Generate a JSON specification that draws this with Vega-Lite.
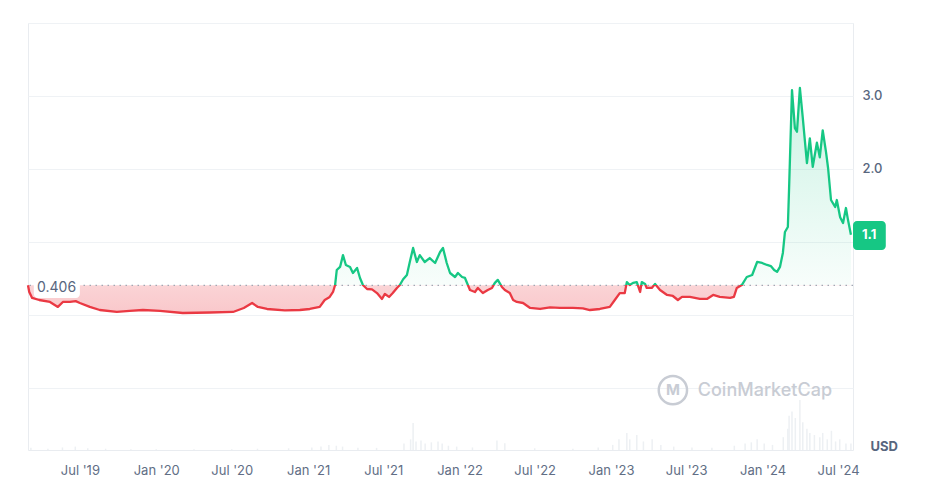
{
  "$schema": "https://vega.github.io/schema/vega-lite/v6.json",
  "width": 825,
  "height": 427,
  "autosize": {"type": "none"},
  "padding": {"left": 28, "top": 23, "right": 75, "bottom": 54},
  "background": "#ffffff",
  "config": {
    "view": {"stroke": "#e9ecf0", "strokeWidth": 1},
    "font": "Inter",
    "axis": {"labelFont": "Inter", "titleFont": "Inter"},
    "axisX": {"grid": false}
  },
  "datasets": {
    "price": [
      {"date": "2019-02-26", "price": 0.406},
      {"date": "2019-03-01", "price": 0.315},
      {"date": "2019-03-08", "price": 0.233},
      {"date": "2019-03-25", "price": 0.205},
      {"date": "2019-04-20", "price": 0.178},
      {"date": "2019-05-09", "price": 0.11},
      {"date": "2019-05-21", "price": 0.178},
      {"date": "2019-06-07", "price": 0.178},
      {"date": "2019-06-21", "price": 0.19},
      {"date": "2019-07-01", "price": 0.164},
      {"date": "2019-07-25", "price": 0.11},
      {"date": "2019-08-18", "price": 0.068},
      {"date": "2019-09-28", "price": 0.041},
      {"date": "2019-10-29", "price": 0.055},
      {"date": "2019-11-30", "price": 0.068},
      {"date": "2020-01-10", "price": 0.055},
      {"date": "2020-03-05", "price": 0.027},
      {"date": "2020-05-09", "price": 0.034},
      {"date": "2020-07-04", "price": 0.041},
      {"date": "2020-07-30", "price": 0.096},
      {"date": "2020-08-19", "price": 0.164},
      {"date": "2020-09-02", "price": 0.11},
      {"date": "2020-09-24", "price": 0.082},
      {"date": "2020-11-06", "price": 0.062},
      {"date": "2020-12-12", "price": 0.068},
      {"date": "2021-01-05", "price": 0.082},
      {"date": "2021-01-29", "price": 0.11},
      {"date": "2021-02-10", "price": 0.205},
      {"date": "2021-02-22", "price": 0.247},
      {"date": "2021-03-02", "price": 0.315},
      {"date": "2021-03-07", "price": 0.41},
      {"date": "2021-03-11", "price": 0.616},
      {"date": "2021-03-19", "price": 0.658},
      {"date": "2021-03-26", "price": 0.82},
      {"date": "2021-04-02", "price": 0.685},
      {"date": "2021-04-12", "price": 0.658},
      {"date": "2021-04-19", "price": 0.575},
      {"date": "2021-04-29", "price": 0.644},
      {"date": "2021-05-06", "price": 0.507},
      {"date": "2021-05-13", "price": 0.41},
      {"date": "2021-05-23", "price": 0.356},
      {"date": "2021-06-04", "price": 0.35},
      {"date": "2021-06-16", "price": 0.30},
      {"date": "2021-06-28", "price": 0.22},
      {"date": "2021-07-05", "price": 0.288},
      {"date": "2021-07-15", "price": 0.247},
      {"date": "2021-07-24", "price": 0.30},
      {"date": "2021-08-03", "price": 0.37},
      {"date": "2021-08-10", "price": 0.41},
      {"date": "2021-08-18", "price": 0.49},
      {"date": "2021-08-27", "price": 0.548},
      {"date": "2021-09-03", "price": 0.726},
      {"date": "2021-09-11", "price": 0.918},
      {"date": "2021-09-20", "price": 0.726},
      {"date": "2021-09-27", "price": 0.82},
      {"date": "2021-10-09", "price": 0.726},
      {"date": "2021-10-21", "price": 0.78},
      {"date": "2021-11-03", "price": 0.712},
      {"date": "2021-11-15", "price": 0.863},
      {"date": "2021-11-22", "price": 0.918},
      {"date": "2021-12-01", "price": 0.712},
      {"date": "2021-12-09", "price": 0.575},
      {"date": "2021-12-21", "price": 0.52},
      {"date": "2021-12-28", "price": 0.575},
      {"date": "2022-01-07", "price": 0.52},
      {"date": "2022-01-14", "price": 0.507},
      {"date": "2022-01-21", "price": 0.41},
      {"date": "2022-01-26", "price": 0.342},
      {"date": "2022-02-07", "price": 0.315},
      {"date": "2022-02-14", "price": 0.37},
      {"date": "2022-02-26", "price": 0.30},
      {"date": "2022-03-10", "price": 0.342},
      {"date": "2022-03-20", "price": 0.37},
      {"date": "2022-03-27", "price": 0.44},
      {"date": "2022-04-03", "price": 0.48},
      {"date": "2022-04-13", "price": 0.384},
      {"date": "2022-04-20", "price": 0.342},
      {"date": "2022-05-02", "price": 0.30},
      {"date": "2022-05-10", "price": 0.205},
      {"date": "2022-05-19", "price": 0.178},
      {"date": "2022-06-03", "price": 0.164},
      {"date": "2022-06-20", "price": 0.096},
      {"date": "2022-07-14", "price": 0.082},
      {"date": "2022-08-07", "price": 0.103},
      {"date": "2022-08-31", "price": 0.096},
      {"date": "2022-10-01", "price": 0.096},
      {"date": "2022-10-25", "price": 0.089},
      {"date": "2022-11-11", "price": 0.068},
      {"date": "2022-12-05", "price": 0.082},
      {"date": "2022-12-29", "price": 0.11},
      {"date": "2023-01-10", "price": 0.205},
      {"date": "2023-01-22", "price": 0.30},
      {"date": "2023-02-03", "price": 0.30},
      {"date": "2023-02-08", "price": 0.45},
      {"date": "2023-02-15", "price": 0.41},
      {"date": "2023-02-23", "price": 0.44},
      {"date": "2023-03-04", "price": 0.45},
      {"date": "2023-03-12", "price": 0.315},
      {"date": "2023-03-16", "price": 0.45},
      {"date": "2023-03-24", "price": 0.425},
      {"date": "2023-03-28", "price": 0.37},
      {"date": "2023-04-09", "price": 0.37},
      {"date": "2023-04-17", "price": 0.425},
      {"date": "2023-04-29", "price": 0.342},
      {"date": "2023-05-16", "price": 0.274},
      {"date": "2023-05-30", "price": 0.26},
      {"date": "2023-06-11", "price": 0.205},
      {"date": "2023-06-21", "price": 0.247},
      {"date": "2023-07-10", "price": 0.247},
      {"date": "2023-08-03", "price": 0.22},
      {"date": "2023-08-20", "price": 0.22},
      {"date": "2023-09-04", "price": 0.274},
      {"date": "2023-09-20", "price": 0.247},
      {"date": "2023-10-15", "price": 0.233},
      {"date": "2023-10-24", "price": 0.247},
      {"date": "2023-10-31", "price": 0.37},
      {"date": "2023-11-12", "price": 0.41},
      {"date": "2023-11-24", "price": 0.52},
      {"date": "2023-12-07", "price": 0.548},
      {"date": "2023-12-19", "price": 0.726},
      {"date": "2023-12-31", "price": 0.712},
      {"date": "2024-01-12", "price": 0.685},
      {"date": "2024-01-21", "price": 0.67},
      {"date": "2024-01-29", "price": 0.616},
      {"date": "2024-02-05", "price": 0.59},
      {"date": "2024-02-12", "price": 0.658},
      {"date": "2024-02-19", "price": 0.85},
      {"date": "2024-02-24", "price": 1.137},
      {"date": "2024-03-02", "price": 1.205},
      {"date": "2024-03-05", "price": 1.74},
      {"date": "2024-03-12", "price": 3.08},
      {"date": "2024-03-19", "price": 2.56},
      {"date": "2024-03-24", "price": 2.51},
      {"date": "2024-03-31", "price": 3.11},
      {"date": "2024-04-07", "price": 2.70},
      {"date": "2024-04-17", "price": 2.08},
      {"date": "2024-04-24", "price": 2.42},
      {"date": "2024-05-01", "price": 2.03},
      {"date": "2024-05-11", "price": 2.36},
      {"date": "2024-05-18", "price": 2.16},
      {"date": "2024-05-25", "price": 2.53},
      {"date": "2024-06-02", "price": 2.23},
      {"date": "2024-06-07", "price": 2.01},
      {"date": "2024-06-14", "price": 1.575},
      {"date": "2024-06-24", "price": 1.48},
      {"date": "2024-06-28", "price": 1.575},
      {"date": "2024-07-06", "price": 1.34},
      {"date": "2024-07-13", "price": 1.26},
      {"date": "2024-07-20", "price": 1.465},
      {"date": "2024-07-25", "price": 1.30},
      {"date": "2024-08-01", "price": 1.10}
    ],
    "volume": [
      {"date": "2019-03-05", "volume": 0.5},
      {"date": "2019-04-15", "volume": 0.3},
      {"date": "2019-05-20", "volume": 0.6},
      {"date": "2019-06-20", "volume": 0.8},
      {"date": "2019-07-20", "volume": 0.4},
      {"date": "2019-09-01", "volume": 0.3},
      {"date": "2019-11-01", "volume": 0.2},
      {"date": "2020-01-01", "volume": 0.2},
      {"date": "2020-04-01", "volume": 0.2},
      {"date": "2020-07-01", "volume": 0.2},
      {"date": "2020-09-01", "volume": 0.3},
      {"date": "2020-11-15", "volume": 0.4},
      {"date": "2021-01-10", "volume": 0.6},
      {"date": "2021-02-01", "volume": 0.8},
      {"date": "2021-02-20", "volume": 1.2},
      {"date": "2021-03-10", "volume": 1.0},
      {"date": "2021-03-25", "volume": 0.8},
      {"date": "2021-05-01", "volume": 0.5},
      {"date": "2021-06-15", "volume": 0.5},
      {"date": "2021-08-20", "volume": 1.5},
      {"date": "2021-09-05", "volume": 2.5},
      {"date": "2021-09-11", "volume": 6.3},
      {"date": "2021-09-18", "volume": 2.0},
      {"date": "2021-09-30", "volume": 2.2},
      {"date": "2021-10-10", "volume": 1.5},
      {"date": "2021-10-25", "volume": 1.8},
      {"date": "2021-11-10", "volume": 2.0},
      {"date": "2021-11-20", "volume": 1.5},
      {"date": "2021-12-05", "volume": 1.0},
      {"date": "2021-12-25", "volume": 0.8},
      {"date": "2022-02-01", "volume": 0.6},
      {"date": "2022-04-01", "volume": 2.2},
      {"date": "2022-04-20", "volume": 1.6},
      {"date": "2022-07-01", "volume": 0.4},
      {"date": "2022-10-01", "volume": 0.3},
      {"date": "2022-12-01", "volume": 0.6},
      {"date": "2023-01-05", "volume": 1.2},
      {"date": "2023-01-20", "volume": 2.5},
      {"date": "2023-02-08", "volume": 4.0},
      {"date": "2023-02-15", "volume": 2.5},
      {"date": "2023-03-04", "volume": 3.5},
      {"date": "2023-03-20", "volume": 2.0},
      {"date": "2023-04-10", "volume": 2.5},
      {"date": "2023-05-01", "volume": 1.2},
      {"date": "2023-06-01", "volume": 0.8},
      {"date": "2023-07-15", "volume": 0.6},
      {"date": "2023-09-01", "volume": 0.5},
      {"date": "2023-10-25", "volume": 1.0},
      {"date": "2023-11-20", "volume": 1.5},
      {"date": "2023-12-05", "volume": 1.8},
      {"date": "2023-12-19", "volume": 2.5},
      {"date": "2024-01-05", "volume": 1.5},
      {"date": "2024-01-25", "volume": 1.2},
      {"date": "2024-02-20", "volume": 3.0},
      {"date": "2024-03-02", "volume": 5.0},
      {"date": "2024-03-05", "volume": 8.0},
      {"date": "2024-03-12", "volume": 9.0},
      {"date": "2024-03-20", "volume": 7.5},
      {"date": "2024-03-31", "volume": 11.7},
      {"date": "2024-04-07", "volume": 6.5},
      {"date": "2024-04-17", "volume": 5.0},
      {"date": "2024-04-24", "volume": 4.0},
      {"date": "2024-05-05", "volume": 3.5},
      {"date": "2024-05-18", "volume": 3.0},
      {"date": "2024-05-25", "volume": 4.0},
      {"date": "2024-06-05", "volume": 2.5},
      {"date": "2024-06-15", "volume": 4.5},
      {"date": "2024-06-25", "volume": 2.0},
      {"date": "2024-07-05", "volume": 2.5},
      {"date": "2024-07-20", "volume": 1.5},
      {"date": "2024-08-01", "volume": 1.5}
    ]
  },
  "resolve": {"scale": {"y": "independent"}},
  "layer": [
    {
      "data": {"name": "volume"},
      "mark": {"type": "rule", "color": "#edf0f3", "strokeWidth": 1.5},
      "encoding": {
        "x": {
          "field": "date", "type": "temporal", "title": null,
          "scale": {"type": "utc", "domain": [{"year": 2019, "month": 2, "date": 26, "utc": true}, {"year": 2024, "month": 8, "date": 6, "utc": true}]},
          "axis": {
            "values": [
              {"year": 2019, "month": 7, "date": 1, "utc": true},
              {"year": 2020, "month": 1, "date": 1, "utc": true},
              {"year": 2020, "month": 7, "date": 1, "utc": true},
              {"year": 2021, "month": 1, "date": 1, "utc": true},
              {"year": 2021, "month": 7, "date": 1, "utc": true},
              {"year": 2022, "month": 1, "date": 1, "utc": true},
              {"year": 2022, "month": 7, "date": 1, "utc": true},
              {"year": 2023, "month": 1, "date": 1, "utc": true},
              {"year": 2023, "month": 7, "date": 1, "utc": true},
              {"year": 2024, "month": 1, "date": 1, "utc": true},
              {"year": 2024, "month": 7, "date": 1, "utc": true}
            ],
            "labelExpr": "utcFormat(datum.value, \"%b '%y\")",
            "domain": false, "ticks": false, "tickSize": 0, "grid": false,
            "labelPadding": 14, "labelFontSize": 13, "labelColor": "#616e85", "labelFont": "Inter"
          }
        },
        "y": {"field": "volume", "type": "quantitative", "scale": {"domain": [0, 100], "nice": false}, "axis": null},
        "y2": {"datum": 0}
      }
    },
    {
      "layer": [
        {
          "data": {"name": "price"},
          "mark": {
            "type": "area",
            "fill": {
              "gradient": "linear", "x1": 0, "y1": 0, "x2": 0, "y2": 1,
              "stops": [
                {"offset": 0, "color": "rgba(22,199,132,0.22)"},
                {"offset": 0.877, "color": "rgba(22,199,132,0.03)"},
                {"offset": 0.877, "color": "rgba(234,57,67,0.22)"},
                {"offset": 1, "color": "rgba(234,57,67,0.28)"}
              ]
            }
          },
          "encoding": {
            "x": {"field": "date", "type": "temporal", "title": null},
            "y": {
              "field": "price", "type": "quantitative", "title": "USD",
              "scale": {"domain": [-1.85, 4.0], "nice": false, "zero": false},
              "axis": {
                "orient": "right", "values": [-1, 0, 1, 2, 3, 4],
                "labelExpr": "datum.value == 3 || datum.value == 2 ? format(datum.value, '.1f') : ''",
                "domain": false, "ticks": false, "tickSize": 0, "grid": true, "gridColor": "#eff2f5",
                "labelPadding": 9, "labelFontSize": 13, "labelFontWeight": 500, "labelColor": "#58667e", "labelFont": "Inter",
                "title": "USD", "titleAngle": 0, "titleAlign": "left", "titleBaseline": "middle",
                "titleX": 17, "titleY": 423, "titleFontSize": 13, "titleFontWeight": "bold", "titleColor": "#58667e", "titleFont": "Inter"
              }
            },
            "y2": {"datum": 0.406}
          }
        },
        {
          "data": {"values": [{}]},
          "mark": {"type": "rule", "color": "#a1a7b3", "strokeDash": [1.5, 4.5], "strokeWidth": 1.2},
          "encoding": {"y": {"datum": 0.406}}
        },
        {
          "data": {"name": "price"},
          "mark": {
            "type": "line", "strokeWidth": 2.3, "strokeJoin": "round",
            "stroke": {
              "gradient": "linear", "x1": 0, "y1": 0, "x2": 0, "y2": 1,
              "stops": [
                {"offset": 0, "color": "#16c784"},
                {"offset": 0.877, "color": "#16c784"},
                {"offset": 0.877, "color": "#ea3943"},
                {"offset": 1, "color": "#ea3943"}
              ]
            }
          },
          "encoding": {
            "x": {"field": "date", "type": "temporal", "title": null},
            "y": {"field": "price", "type": "quantitative", "title": "USD"}
          }
        },
        {
          "data": {"values": [{}]},
          "mark": {"type": "rect", "fill": "#ffffff", "cornerRadius": 4},
          "encoding": {
            "x": {"datum": {"year": 2019, "month": 3, "date": 12, "utc": true}, "type": "temporal"},
            "x2": {"datum": {"year": 2019, "month": 7, "date": 1, "utc": true}},
            "y": {"datum": 0.466, "type": "quantitative"},
            "y2": {"datum": 0.233}
          }
        },
        {
          "data": {"values": [{}]},
          "mark": {"type": "text", "text": "0.406", "align": "left", "baseline": "middle", "dx": 9, "dy": 3, "fontSize": 14, "color": "#58667e", "font": "Inter"},
          "encoding": {
            "x": {"datum": {"year": 2019, "month": 2, "date": 26, "utc": true}, "type": "temporal"},
            "y": {"datum": 0.406, "type": "quantitative"}
          }
        },
        {
          "data": {"values": [{}]},
          "mark": {"type": "rect", "fill": "#16c784", "cornerRadius": 4},
          "encoding": {
            "x": {"datum": {"year": 2024, "month": 8, "date": 6, "utc": true}, "type": "temporal"},
            "x2": {"datum": {"year": 2024, "month": 10, "date": 24, "utc": true}},
            "y": {"datum": 1.288, "type": "quantitative"},
            "y2": {"datum": 0.89}
          }
        },
        {
          "data": {"values": [{}]},
          "mark": {"type": "text", "text": "1.1", "align": "center", "baseline": "middle", "fontSize": 13, "fontWeight": "bold", "color": "#ffffff", "font": "Inter"},
          "encoding": {
            "x": {"datum": {"year": 2024, "month": 9, "date": 14, "utc": true}, "type": "temporal"},
            "y": {"datum": 1.09, "type": "quantitative"}
          }
        },
        {
          "data": {"values": [{}]},
          "mark": {"type": "point", "shape": "circle", "size": 800, "filled": false, "stroke": "#c8ccd4", "strokeWidth": 2.5, "opacity": 1},
          "encoding": {
            "x": {"datum": {"year": 2023, "month": 5, "date": 30, "utc": true}, "type": "temporal"},
            "y": {"datum": -1.03, "type": "quantitative"}
          }
        },
        {
          "data": {"values": [{}]},
          "mark": {"type": "text", "text": "M", "align": "center", "baseline": "middle", "fontSize": 15, "fontWeight": "bold", "color": "#c8ccd4", "font": "Inter"},
          "encoding": {
            "x": {"datum": {"year": 2023, "month": 5, "date": 30, "utc": true}, "type": "temporal"},
            "y": {"datum": -1.03, "type": "quantitative"}
          }
        },
        {
          "data": {"values": [{}]},
          "mark": {"type": "text", "text": "CoinMarketCap", "align": "left", "baseline": "middle", "fontSize": 18, "fontWeight": 500, "color": "#c8ccd4", "font": "Inter"},
          "encoding": {
            "x": {"datum": {"year": 2023, "month": 7, "date": 29, "utc": true}, "type": "temporal"},
            "y": {"datum": -1.041, "type": "quantitative"}
          }
        }
      ]
    }
  ]
}
